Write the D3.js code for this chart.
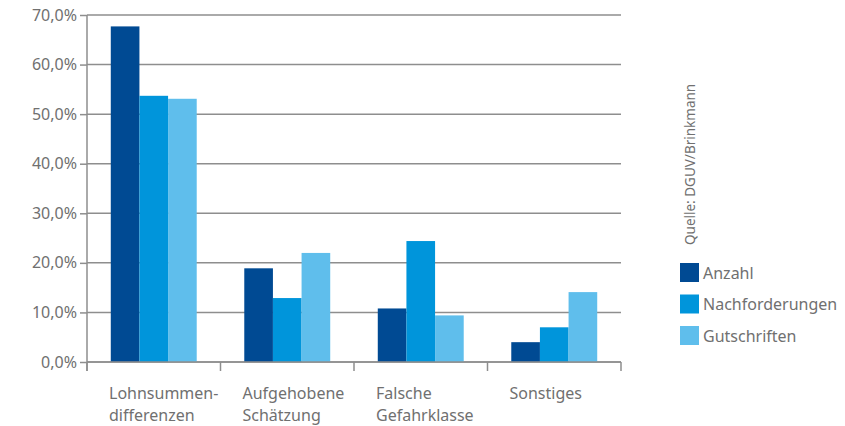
<!DOCTYPE html>
<html>
<head>
<meta charset="utf-8">
<script src="https://cdn.jsdelivr.net/npm/d3@7"></script>
<style>
  html, body { margin: 0; padding: 0; background: #fff; }
  svg text { font-family: "Noto Sans", "Open Sans", sans-serif; fill: #707070; }
</style>
</head>
<body>
<svg id="chart" width="845" height="426"></svg>
<script>
// Categories (two-line labels) and series values in percent
const categories = ["Lohnsummen-differenzen", "Aufgehobene Schätzung", "Falsche Gefahrklasse", "Sonstiges"];
const categoryLines = [["Lohnsummen-", "differenzen"], ["Aufgehobene", "Schätzung"], ["Falsche", "Gefahrklasse"], ["Sonstiges"]];
const seriesNames = ["Anzahl", "Nachforderungen", "Gutschriften"];
const anzahl = [67.7, 18.9, 10.8, 4.0];
const nachforderungen = [53.7, 12.9, 24.4, 7.0];
const gutschriften = [53.1, 22.0, 9.4, 14.1];
const yTicks = [0, 10, 20, 30, 40, 50, 60, 70];
const sourceNote = "Quelle: DGUV/Brinkmann";

const seriesValues = [anzahl, nachforderungen, gutschriften];
const colors = ["#004a93", "#0095db", "#5fbeec"];

const svg = d3.select("#chart");
const plotLeft = 87, plotRight = 621, plotTop = 15, plotBottom = 362;

const y = d3.scaleLinear().domain([0, 70]).range([plotBottom, plotTop]);
const x0 = d3.scaleBand().domain(categories).range([plotLeft, plotRight]).padding(0);
const x1 = d3.scaleBand().domain(seriesNames).range([0, x0.bandwidth()]).paddingInner(0).paddingOuter(0.83);

const fmt = v => d3.format(".1f")(v).replace(".", ",") + "%";

// Horizontal gridlines
svg.append("g")
  .selectAll("line")
  .data(yTicks)
  .join("line")
  .attr("x1", plotLeft).attr("x2", plotRight)
  .attr("y1", d => y(d)).attr("y2", d => y(d))
  .attr("stroke", "#8e8e8e").attr("stroke-width", 1.5);

// Bars
const groups = svg.append("g")
  .selectAll("g")
  .data(categories)
  .join("g")
  .attr("transform", d => `translate(${x0(d)},0)`);

groups.selectAll("rect")
  .data((d, i) => seriesNames.map((s, j) => ({ s, j, v: seriesValues[j][i] })))
  .join("rect")
  .attr("x", d => x1(d.s))
  .attr("width", x1.bandwidth())
  .attr("y", d => y(d.v))
  .attr("height", d => plotBottom - y(d.v))
  .attr("fill", d => colors[d.j]);

// Y axis
const yAxis = svg.append("g")
  .attr("transform", `translate(${plotLeft},0)`)
  .call(d3.axisLeft(y).tickValues(yTicks).tickFormat(fmt).tickSize(7).tickPadding(3));
yAxis.select(".domain").attr("stroke", "#8e8e8e").attr("stroke-width", 1.5)
  .attr("d", `M0,${plotTop}V${plotBottom + 9}`);
yAxis.selectAll(".tick line").attr("stroke", "#8e8e8e").attr("stroke-width", 1.5);
yAxis.selectAll(".tick text").attr("font-size", 16).style("fill", "#707070");

// X axis baseline and category separators
svg.append("line")
  .attr("x1", plotLeft).attr("x2", plotRight)
  .attr("y1", plotBottom).attr("y2", plotBottom)
  .attr("stroke", "#8e8e8e").attr("stroke-width", 1.5);
svg.append("g")
  .selectAll("line")
  .data(categories.map(c => x0(c)).concat([plotRight]))
  .join("line")
  .attr("x1", d => d).attr("x2", d => d)
  .attr("y1", plotBottom).attr("y2", plotBottom + 9)
  .attr("stroke", "#8e8e8e").attr("stroke-width", 1.5);

// Category labels
const labels = svg.append("g")
  .selectAll("text")
  .data(categories)
  .join("text")
  .attr("x", d => x0(d) + 22)
  .attr("y", 399)
  .attr("font-size", 16);
labels.selectAll("tspan")
  .data((d, i) => categoryLines[i])
  .join("tspan")
  .attr("x", function () { return d3.select(this.parentNode).attr("x"); })
  .attr("dy", (d, i) => i === 0 ? 0 : 22)
  .text(d => d);

// Source note, rotated
svg.append("text")
  .attr("transform", "translate(695,245) rotate(-90)")
  .attr("font-size", 13.5)
  .text(sourceNote);

// Legend
const legend = svg.append("g")
  .selectAll("g")
  .data(seriesNames)
  .join("g")
  .attr("transform", (d, i) => `translate(680,${263 + i * 31.5})`);
legend.append("rect").attr("width", 19).attr("height", 19).attr("fill", (d, i) => colors[i]);
legend.append("text").attr("x", 23).attr("y", 15.5).attr("font-size", 16).text(d => d);
</script>
</body>
</html>
